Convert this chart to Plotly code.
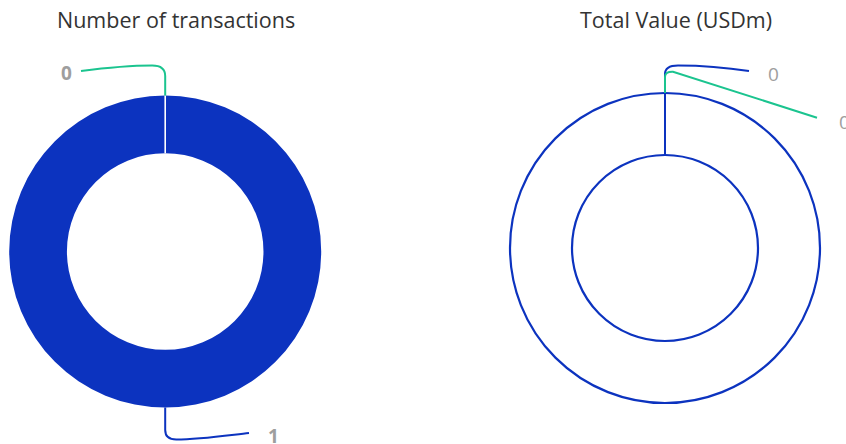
import plotly.graph_objects as go

# ---- data ----
segments = ["Completed", "Pending"]
transactions = [1, 0]
total_value_usdm = [0, 0]
chart_titles = ["Number of transactions", "Total Value (USDm)"]

# ---- styling ----
W, H = 846, 444
BLUE = "#0c33bf"
GREEN = "#1bc48f"
LABEL_GREY = "#9e9e9e"
FONT = "Open Sans"

# donut geometry in pixels (centre x, centre y, outer radius, hole fraction)
LEFT = dict(cx=165.2, cy=251.5, r=156.0, hole=0.63)
RIGHT = dict(cx=665.0, cy=248.0, r=155.0, hole=0.60)


def px(x):
    return x / W


def py(y):
    return 1 - y / H


def domain(g):
    return dict(x=[px(g["cx"] - g["r"]), px(g["cx"] + g["r"])],
                y=[py(g["cy"] + g["r"]), py(g["cy"] - g["r"])])


def path(cmds):
    """Build an SVG path in paper coords from (op, [x, y, ...]) pixel tuples."""
    out = []
    for op, pts in cmds:
        conv = []
        for i in range(0, len(pts), 2):
            conv.append(f"{px(pts[i]):.5f},{py(pts[i + 1]):.5f}")
        out.append(op + " " + " ".join(conv))
    return " ".join(out)


fig = go.Figure()

fig.add_trace(go.Pie(
    labels=segments, values=transactions, hole=LEFT["hole"],
    domain=domain(LEFT), sort=False, direction="clockwise", rotation=0,
    marker=dict(colors=[BLUE, GREEN], line=dict(color="white", width=0)),
    textinfo="none", showlegend=False, name=chart_titles[0],
))
fig.add_trace(go.Pie(
    labels=segments, values=total_value_usdm, hole=RIGHT["hole"],
    domain=domain(RIGHT), sort=False, direction="clockwise", rotation=0,
    marker=dict(colors=[BLUE, GREEN]),
    textinfo="none", showlegend=False, name=chart_titles[1],
))

shapes = []

# slice border between the two segments of the left donut (at 12 o'clock)
lc, lt = LEFT["cx"], LEFT["cy"] - LEFT["r"]
li = LEFT["cy"] - LEFT["r"] * LEFT["hole"]
shapes.append(dict(type="line", xref="paper", yref="paper",
                   x0=px(lc), x1=px(lc), y0=py(lt), y1=py(li),
                   line=dict(color="white", width=1.6), layer="above"))

# empty-state outline for the right donut (all values are zero)
for rr in (RIGHT["r"], RIGHT["r"] * RIGHT["hole"]):
    shapes.append(dict(type="circle", xref="paper", yref="paper",
                       x0=px(RIGHT["cx"] - rr), x1=px(RIGHT["cx"] + rr),
                       y0=py(RIGHT["cy"] + rr), y1=py(RIGHT["cy"] - rr),
                       line=dict(color=BLUE, width=2.2), fillcolor="rgba(0,0,0,0)"))

# data-label connectors
lb = LEFT["cy"] + LEFT["r"]
rc = RIGHT["cx"]
rt = RIGHT["cy"] - RIGHT["r"]
ri = RIGHT["cy"] - RIGHT["r"] * RIGHT["hole"]
connectors = [
    (GREEN, [("M", [lc, lt]), ("L", [lc, 76]), ("Q", [lc, 65.5, lc - 13, 65.5]),
             ("C", [lc - 35, 65.5, lc - 65, 68.5, 81, 71])]),
    (BLUE, [("M", [lc, lb]), ("L", [lc, 430]), ("Q", [lc, 439.5, lc + 11, 439.5]),
            ("C", [lc + 35, 439.5, lc + 65, 435, 249, 433])]),
    (BLUE, [("M", [rc, ri]), ("L", [rc, 74]), ("Q", [rc, 65.4, rc + 13, 65.4]),
            ("C", [rc + 35, 65.4, rc + 65, 68, 749, 71])]),
    (GREEN, [("M", [rc, rt]), ("L", [rc, 77]), ("Q", [rc, 71.5, rc + 8, 71.8]),
             ("L", [817, 117.7])]),
]
for color, cmds in connectors:
    shapes.append(dict(type="path", xref="paper", yref="paper", path=path(cmds),
                       line=dict(color=color, width=2), fillcolor="rgba(0,0,0,0)"))

annotations = []
# chart titles
for text, x in zip(chart_titles, (176, 676)):
    annotations.append(dict(text=text, x=px(x), y=py(20), xref="paper", yref="paper",
                            showarrow=False, xanchor="center", yanchor="middle",
                            font=dict(family=FONT, size=21.5, color="#333333")))

# data labels
label_specs = [
    (transactions[1], 66, 73, "center", True),
    (transactions[0], 273, 436, "center", True),
    (total_value_usdm[0], 773, 74, "center", False),
    (total_value_usdm[1], 837, 122, "left", False),
]
for val, x, y, anchor, bold in label_specs:
    txt = f"<b>{val}</b>" if bold else str(val)
    annotations.append(dict(text=txt, x=px(x), y=py(y), xref="paper", yref="paper",
                            showarrow=False, xanchor=anchor, yanchor="middle",
                            font=dict(family=FONT, size=19, color=LABEL_GREY)))

fig.update_layout(
    width=W, height=H, margin=dict(l=0, r=0, t=0, b=0),
    paper_bgcolor="white", plot_bgcolor="white",
    shapes=shapes, annotations=annotations, showlegend=False,
)

fig.write_html("out.html")
